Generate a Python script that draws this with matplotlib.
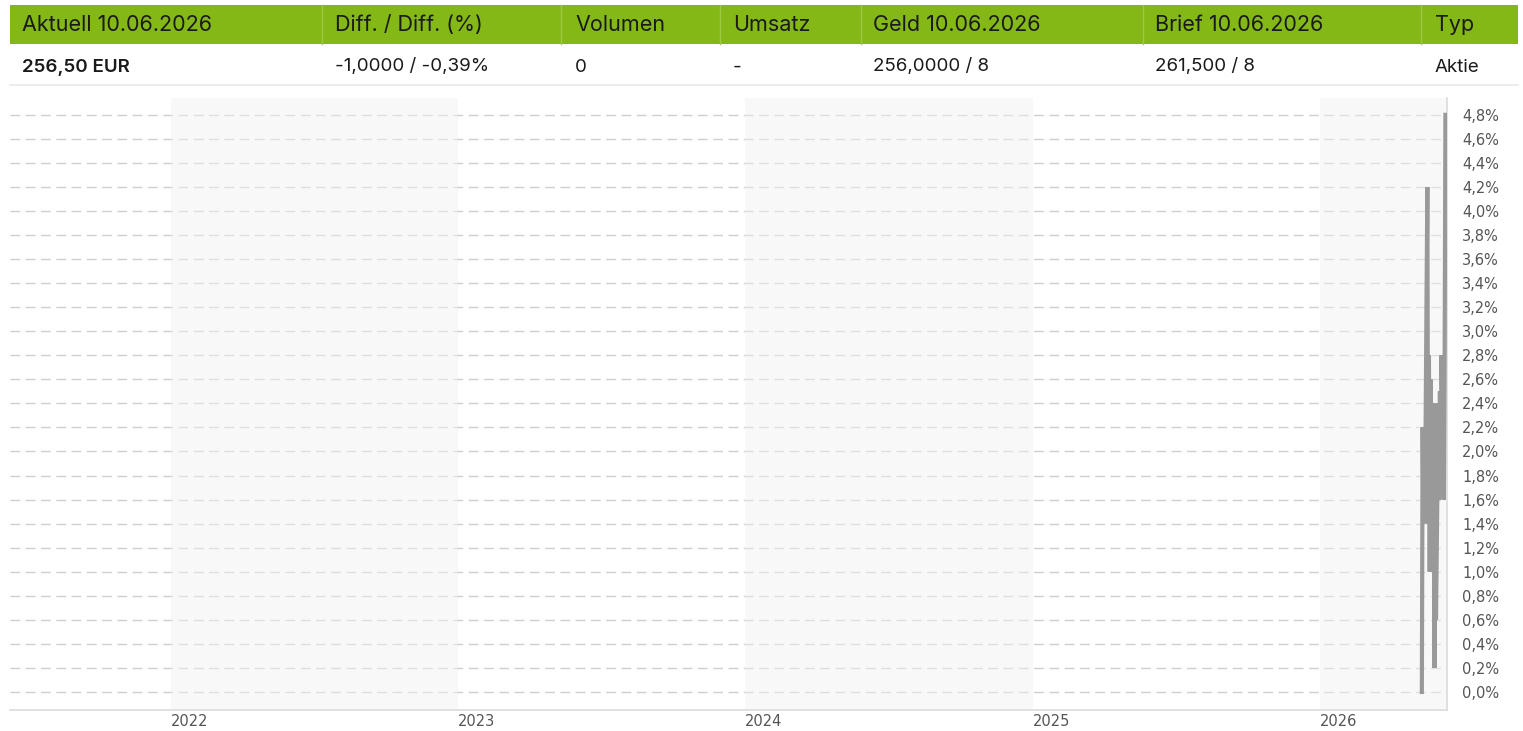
import matplotlib.pyplot as plt
from matplotlib.patches import Rectangle
from matplotlib.lines import Line2D
import numpy as np
import pandas as pd

W, H = 1523, 731

# quote table
headers = ['Aktuell 10.06.2026', 'Diff. / Diff. (%)', 'Volumen', 'Umsatz',
           'Geld 10.06.2026', 'Brief 10.06.2026', 'Typ']
values = ['256,50 EUR', '-1,0000 / -0,39%', '0', '-',
          '256,0000 / 8', '261,500 / 8', 'Aktie']
col_x = [22, 335, 575, 733, 873, 1155, 1435]
col_sep = [322, 561, 720, 861, 1143, 1421]

# performance since first quote (%)
dates = pd.to_datetime([
    '2026-05-11', '2026-05-12', '2026-05-13', '2026-05-14', '2026-05-15',
    '2026-05-18', '2026-05-19', '2026-05-20', '2026-05-21', '2026-05-22',
    '2026-05-25', '2026-05-26', '2026-05-27', '2026-05-28', '2026-05-29',
    '2026-06-01', '2026-06-02', '2026-06-03', '2026-06-04', '2026-06-05',
    '2026-06-08', '2026-06-09', '2026-06-10'])
perf = [0.0, 2.2, 1.4, 2.0, 1.5, 4.2, 1.4, 2.8, 1.0, 2.6,
        1.2, 2.4, 0.2, 2.3, 0.6, 2.4, 1.6, 2.5, 1.7, 2.8,
        1.6, 2.8, 4.8]

years = [2022, 2023, 2024, 2025, 2026]
y_ticks = np.round(np.arange(0, 4.81, 0.2), 1)

fig = plt.figure(figsize=(W / 100, H / 100), dpi=100)
fig.patch.set_facecolor('white')


def fx(px):
    return px / W


def fy(py):
    return 1 - py / H


# header bar
fig.patches.append(Rectangle((fx(10), fy(44)), fx(1508), 39 / H,
                             transform=fig.transFigure, facecolor='#84b817',
                             edgecolor='none', zorder=0))
for sx in col_sep:
    fig.add_artist(Line2D([fx(sx), fx(sx)], [fy(44), fy(5)],
                          transform=fig.transFigure, color='#9cc93f', lw=1))
fig.add_artist(Line2D([fx(10), fx(1518)], [fy(85), fy(85)],
                      transform=fig.transFigure, color='#ececec', lw=1.5))

for i, (x, h, v) in enumerate(zip(col_x, headers, values)):
    fig.text(fx(x), fy(25), h, family='Inter', fontsize=15.5,
             color='#1a1a1a', va='center', ha='left')
    fig.text(fx(x), fy(67), v, family='Inter', fontsize=13.5,
             color='#1a1a1a', va='center', ha='left',
             fontweight='semibold' if i == 0 else 'normal')

# chart area
ax = fig.add_axes([fx(10), 1 - 710 / H, fx(1437), (710 - 98) / H])
ax.set_facecolor('white')

x0 = pd.Timestamp('2021-06-10')
x1 = pd.Timestamp('2026-06-12')
ax.set_xlim(x0, x1)
ax.set_ylim(-0.15, 4.94)

for yv in y_ticks:
    ax.axhline(yv, color='#cfcfcf', lw=1, linestyle=(0, (7, 4)), zorder=1)

for yr in [2022, 2024, 2026]:
    start = pd.Timestamp(f'{yr}-01-01')
    end = min(pd.Timestamp(f'{yr + 1}-01-01'), x1)
    ax.axvspan(start, end, facecolor='#f1f1f1', alpha=0.45,
               edgecolor='none', zorder=2)

ax.plot(dates, perf, color='#999999', lw=3, zorder=3,
        solid_joinstyle='miter')

for side in ['top', 'left']:
    ax.spines[side].set_visible(False)
for side in ['right', 'bottom']:
    ax.spines[side].set_color('#dcdcdc')
    ax.spines[side].set_linewidth(1.2)

ax.yaxis.tick_right()
ax.set_yticks(y_ticks)
ax.set_yticklabels([f'{v:.1f}%'.replace('.', ',') for v in y_ticks])
ax.tick_params(axis='y', length=0, pad=11, labelsize=10.5, labelcolor='#555555')

ax.set_xticks([pd.Timestamp(f'{y}-01-01') for y in years])
ax.set_xticklabels([str(y) for y in years], ha='left')
ax.tick_params(axis='x', length=0, pad=3, labelsize=10.5, labelcolor='#555555')

fig.savefig('out.png', dpi=100, facecolor='white')
